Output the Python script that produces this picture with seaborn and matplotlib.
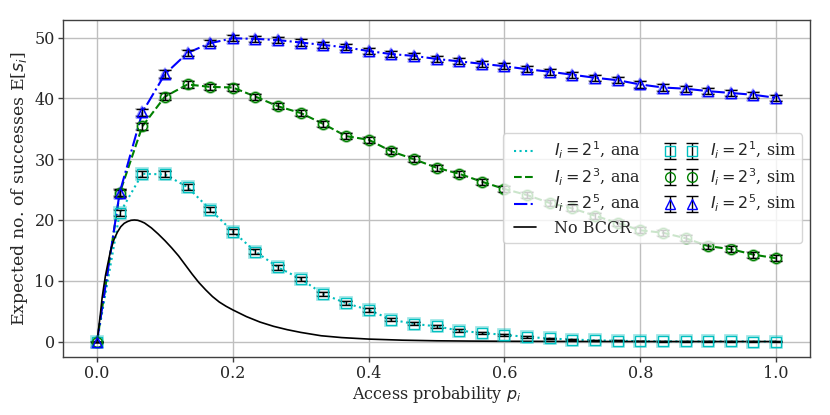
import matplotlib
matplotlib.use('Agg')
import matplotlib.pyplot as plt
import seaborn as sns
import pandas as pd

# access probability grid of the simulation / analysis points (k/30)
p_sim = [k / 30 for k in range(31)]

# I_i = 2^1
succ_i1 = [0, 21.1, 27.6, 27.5, 25.4, 21.7, 18.1, 14.8, 12.2, 10.3, 7.8, 6.3, 5.2, 3.6, 2.9,
           2.5, 1.8, 1.4, 1.1, 0.75, 0.5, 0.32, 0.2, 0.12, 0.06, 0.03, 0.02, 0.01, 0.01, 0.0, 0.0]
err_i1 = [0, 0.5, 0.5, 0.5, 0.5, 0.45, 0.45, 0.4, 0.4, 0.35, 0.35, 0.3, 0.3, 0.25, 0.25,
          0.2, 0.2, 0.15, 0.15, 0.1, 0.1, 0.08, 0.06, 0.05, 0.04, 0.03, 0.02, 0.02, 0.01, 0.01, 0.01]

# I_i = 2^3
succ_i3 = [0, 24.4, 35.4, 40.3, 42.3, 41.9, 41.8, 40.3, 38.7, 37.6, 35.8, 33.8, 33.2, 31.3, 30.0,
           28.6, 27.6, 26.3, 25.1, 24.1, 22.8, 21.9, 20.7, 19.5, 18.3, 17.9, 17.0, 15.7, 15.2, 14.3, 13.7]
err_i3 = [0, 0.6, 0.6, 0.6, 0.5, 0.5, 0.5, 0.5, 0.5, 0.5, 0.5, 0.5, 0.5, 0.5, 0.5,
          0.5, 0.5, 0.5, 0.5, 0.5, 0.5, 0.5, 0.5, 0.5, 0.5, 0.5, 0.5, 0.5, 0.5, 0.5, 0.5]

# I_i = 2^5
succ_i5 = [0, 24.5, 37.7, 44.0, 47.5, 49.1, 49.9, 49.8, 49.6, 49.2, 48.8, 48.4, 47.8, 47.3, 47.0,
           46.5, 46.1, 45.7, 45.3, 44.8, 44.4, 43.9, 43.4, 43.0, 42.3, 41.8, 41.6, 41.2, 40.9, 40.6, 40.1]
err_i5 = [0, 0.6, 0.6, 0.6, 0.5, 0.5, 0.5, 0.5, 0.5, 0.5, 0.5, 0.5, 0.5, 0.5, 0.5,
          0.5, 0.5, 0.5, 0.5, 0.5, 0.5, 0.5, 0.5, 0.5, 0.5, 0.5, 0.5, 0.5, 0.5, 0.5, 0.5]

# No BCCR curve (finer grid)
p_nb = [0, 0.0025, 0.005, 0.0075, 0.01, 0.0125, 0.015, 0.02, 0.025, 0.03, 0.035, 0.04, 0.045,
        0.05, 0.055, 0.06, 0.065, 0.07, 0.08, 0.09, 0.1, 0.11, 0.12, 0.13, 0.14, 0.15, 0.16,
        0.17, 0.18, 0.19, 0.2, 0.22, 0.24, 0.26, 0.28, 0.3, 0.33, 0.36, 0.4, 0.45, 0.5, 0.55,
        0.6, 0.7, 0.8, 0.9, 1.0]
succ_nb = [0, 2.3, 4.6, 7.2, 9.1, 10.9, 12.3, 15.0, 16.8, 18.0, 18.9, 19.45, 19.75,
           19.95, 20.0, 19.95, 19.75, 19.5, 18.7, 17.7, 16.6, 15.4, 14.1, 12.6, 11.1, 9.7, 8.5,
           7.4, 6.5, 5.8, 5.2, 4.1, 3.2, 2.5, 1.95, 1.5, 0.95, 0.65, 0.4, 0.22, 0.12, 0.07,
           0.04, 0.01, 0, 0, 0]

series = [
    ('1', succ_i1, err_i1, '#00bfbf', ':', 's'),
    ('3', succ_i3, err_i3, '#008000', '--', 'o'),
    ('5', succ_i5, err_i5, '#0000ff', '-.', '^'),
]

sns.set_theme(style='ticks', color_codes=False)
plt.rcParams['font.family'] = ['DejaVu Serif']
plt.rcParams['mathtext.fontset'] = 'dejavusans'
plt.rcParams['axes.edgecolor'] = '0.25'
plt.rcParams['axes.linewidth'] = 1.0

fig, ax = plt.subplots(figsize=(8.3, 4.15), dpi=100)

ana_handles = []
sim_handles = []
for exp, succ, err, col, ls, mk in series:
    df = pd.DataFrame({'p': p_sim, 'succ': succ})
    sns.lineplot(data=df, x='p', y='succ', color=col, linestyle=ls, linewidth=1.5, ax=ax,
                 label=f'$I_i = 2^{exp}$, ana')
    ana_handles.append(ax.lines[-1])
    # faded run underneath
    ax.errorbar(p_sim, succ, yerr=err, fmt=mk, color=col, mfc='none', ms=8, mew=1.2,
                ecolor='0.45', elinewidth=1.2, capsize=5, alpha=0.4, zorder=3)
    h = ax.errorbar(p_sim, succ, yerr=err, fmt=mk, color=col, mfc='none', ms=7, mew=1.0,
                    ecolor='k', elinewidth=1.0, capsize=4, zorder=4,
                    label=f'$I_i = 2^{exp}$, sim')
    sim_handles.append(h)

df_nb = pd.DataFrame({'p': p_nb, 'succ': succ_nb})
sns.lineplot(data=df_nb, x='p', y='succ', color='k', linewidth=1.2, ax=ax, label='No BCCR')
nb_handle = ax.lines[-1]

ax.grid(True, color='0.75', linewidth=1.0)
ax.set_axisbelow(True)
ax.margins(x=0.05, y=0.05)
ax.set_xticks([0, 0.2, 0.4, 0.6, 0.8, 1.0])
ax.set_yticks([0, 10, 20, 30, 40, 50])
ax.tick_params(labelsize=11.5, length=3.5, width=1, pad=2.5, color='0.25')
ax.set_xlabel('Access probability $p_i$', fontsize=11.5, labelpad=1)
ax.set_ylabel('Expected no. of successes E[$s_i$]', fontsize=12.5, labelpad=3)

handles = ana_handles + [nb_handle] + sim_handles
labels = [h.get_label() for h in handles]
ax.legend(handles, labels, ncol=2, loc='center right', numpoints=2, fontsize=11.5,
          framealpha=0.8, handlelength=2.0, columnspacing=1.5, labelspacing=0.35)

fig.subplots_adjust(left=0.076, right=0.976, top=0.952, bottom=0.14)
fig.savefig('out.png', dpi=100)
